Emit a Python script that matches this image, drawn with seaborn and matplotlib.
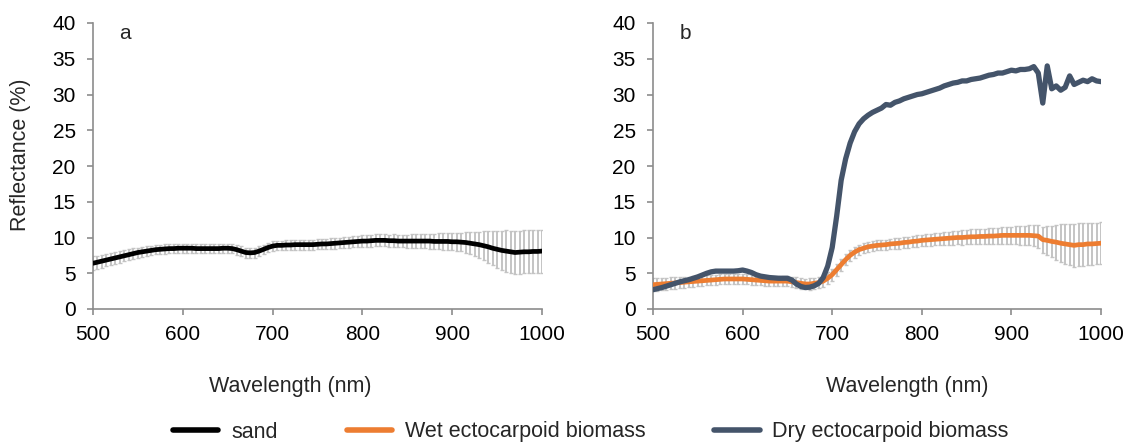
import numpy as np
import pandas as pd
import seaborn as sns
import matplotlib.pyplot as plt
from matplotlib.lines import Line2D

# wavelength grid (nm), 5 nm steps
wavelength = np.arange(500, 1001, 5)

# panel a: sand
sand = [6.4, 6.55, 6.7, 6.85, 7.0, 7.15, 7.3, 7.45, 7.6, 7.75, 7.9, 8.0, 8.1, 8.2, 8.3, 8.35, 8.4,
        8.45, 8.45, 8.5, 8.5, 8.5, 8.5, 8.45, 8.45, 8.45, 8.45, 8.45, 8.45, 8.5, 8.5, 8.45, 8.3, 8.1,
        7.9, 7.85, 7.9, 8.1, 8.35, 8.6, 8.8, 8.9, 8.9, 8.95, 8.95, 9.0, 9.0, 9.0, 9.0, 9.0, 9.05,
        9.1, 9.1, 9.15, 9.2, 9.25, 9.3, 9.35, 9.4, 9.45, 9.5, 9.5, 9.55, 9.6, 9.6, 9.6, 9.55, 9.55,
        9.5, 9.5, 9.5, 9.5, 9.5, 9.5, 9.5, 9.5, 9.45, 9.45, 9.45, 9.45, 9.4, 9.4, 9.35, 9.3, 9.2,
        9.1, 9.0, 8.85, 8.7, 8.5, 8.35, 8.2, 8.1, 8.0, 7.9, 7.95, 8.0, 8.0, 8.05, 8.05, 8.1]
sand_err = [0.95, 0.93, 0.9, 0.88, 0.85, 0.83, 0.8, 0.78, 0.75, 0.73, 0.7, 0.7, 0.68, 0.67, 0.66,
            0.65, 0.65,
            0.65, 0.65, 0.65, 0.65, 0.65, 0.65, 0.65, 0.65, 0.65, 0.65, 0.65, 0.65, 0.65, 0.65,
            0.66, 0.68, 0.7, 0.7, 0.7, 0.7, 0.68, 0.66, 0.65, 0.65,
            0.66, 0.66, 0.67, 0.67, 0.68, 0.68, 0.69, 0.69, 0.7, 0.7,
            0.71, 0.72, 0.73, 0.74, 0.75, 0.76, 0.77, 0.78, 0.79, 0.8,
            0.81, 0.82, 0.83, 0.84, 0.85, 0.86, 0.87, 0.88, 0.89, 0.9,
            0.93, 0.96, 0.99, 1.02, 1.05, 1.08, 1.11, 1.14, 1.17, 1.2,
            1.25, 1.3, 1.4, 1.5, 1.65, 1.8, 2.0, 2.2, 2.4, 2.6,
            2.75, 2.9, 2.95, 3.0, 3.0, 3.0, 3.0, 3.0, 3.0, 3.0]

# panel b: wet and dry ectocarpoid biomass
wet = [3.4, 3.45, 3.5, 3.55, 3.6, 3.65, 3.7, 3.75, 3.8, 3.85, 3.9, 3.95, 4.0, 4.05, 4.1, 4.15, 4.2,
       4.2, 4.2, 4.2, 4.2, 4.15, 4.1, 4.05, 4.0, 3.95, 3.9, 3.9, 3.9, 3.9, 3.9, 3.8, 3.7, 3.6, 3.5,
       3.5, 3.6, 3.7, 3.9, 4.3, 4.8, 5.5, 6.2, 6.9, 7.5, 7.95, 8.3, 8.5, 8.7, 8.8, 8.9, 8.95, 9.0,
       9.1, 9.15, 9.2, 9.3, 9.35, 9.45, 9.5, 9.6, 9.65, 9.7, 9.75, 9.8, 9.85, 9.9, 9.95, 10.0, 10.0,
       10.05, 10.1, 10.1, 10.15, 10.15, 10.2, 10.2, 10.25, 10.3, 10.3, 10.3, 10.3, 10.3, 10.3, 10.3,
       10.25, 10.2, 9.7, 9.6, 9.45, 9.35, 9.2, 9.1, 9.0, 8.9, 9.0, 9.0, 9.1, 9.1, 9.15, 9.2]
wet_err = [0.9, 0.88, 0.86, 0.84, 0.82, 0.8, 0.78, 0.76, 0.74, 0.72, 0.7,
           0.7, 0.7, 0.7, 0.7, 0.7, 0.7, 0.7, 0.7, 0.7, 0.7,
           0.7, 0.7, 0.7, 0.7, 0.7, 0.7, 0.7, 0.7, 0.7, 0.7,
           0.7, 0.72, 0.74, 0.76, 0.78, 0.8, 0.82, 0.85, 0.85, 0.85,
           0.85, 0.82, 0.8, 0.78, 0.75, 0.72, 0.7, 0.7, 0.7, 0.7,
           0.71, 0.72, 0.73, 0.74, 0.75, 0.76, 0.77, 0.78, 0.79, 0.8,
           0.82, 0.84, 0.86, 0.88, 0.9, 0.92, 0.94, 0.96, 0.98, 1.0,
           1.02, 1.04, 1.06, 1.08, 1.1, 1.12, 1.14, 1.16, 1.18, 1.2,
           1.25, 1.3, 1.35, 1.4, 1.5, 1.6, 1.8, 2.0, 2.2, 2.45,
           2.65, 2.8, 2.9, 3.0, 3.0, 3.0, 2.95, 2.95, 2.9, 2.9]
dry = [2.7, 2.85, 3.0, 3.2, 3.4, 3.6, 3.8, 3.95, 4.1, 4.3, 4.5, 4.75, 5.0, 5.2, 5.3, 5.3, 5.3, 5.3,
       5.3, 5.35, 5.45, 5.3, 5.1, 4.8, 4.6, 4.5, 4.4, 4.35, 4.3, 4.3, 4.3, 4.05, 3.5, 3.15, 3.0,
       3.05, 3.25, 3.6, 4.4, 6.0, 8.6, 13.0, 18.0, 21.0, 23.2, 24.8, 25.9, 26.6, 27.1, 27.5, 27.8,
       28.1, 28.6, 28.5, 28.9, 29.1, 29.4, 29.6, 29.8, 30.0, 30.1, 30.3, 30.5, 30.7, 30.9, 31.2,
       31.4, 31.6, 31.7, 31.9, 31.9, 32.1, 32.2, 32.3, 32.5, 32.7, 32.8, 33.0, 33.0, 33.2, 33.4,
       33.3, 33.5, 33.5, 33.6, 33.9, 33.0, 28.8, 34.0, 30.8, 31.2, 30.6, 31.0, 32.6, 31.4, 31.7,
       32.0, 31.8, 32.2, 31.9, 31.8]

series_names = ["sand", "Wet ectocarpoid biomass", "Dry ectocarpoid biomass"]
colors = ["#000000", "#ED7D31", "#44546A"]

sns.set_style("white")
plt.rcParams["font.family"] = ["Liberation Sans", "DejaVu Sans"]
axis_grey = "#8C8C8C"
err_grey = "#C4C4C4"

fig = plt.figure(figsize=(11.29, 4.43), dpi=100)
ax_a = fig.add_axes([93 / 1129, 1 - 309 / 443, 449 / 1129, 286 / 443])
ax_b = fig.add_axes([653 / 1129, 1 - 309 / 443, 448 / 1129, 286 / 443])

# error bars first so lines sit on top
ax_a.errorbar(wavelength, sand, yerr=sand_err, fmt="none", ecolor=err_grey,
              elinewidth=1.4, capsize=1.5, capthick=1.0, zorder=1)
sns.lineplot(x=wavelength, y=sand, ax=ax_a, color=colors[0], lw=3.4, zorder=3)

ax_b.errorbar(wavelength, wet, yerr=wet_err, fmt="none", ecolor=err_grey,
              elinewidth=1.4, capsize=1.5, capthick=1.0, zorder=1)
sns.lineplot(x=wavelength, y=wet, ax=ax_b, color=colors[1], lw=3.4, zorder=3)
sns.lineplot(x=wavelength, y=dry, ax=ax_b, color=colors[2], lw=3.8, zorder=4)

for ax, letter, lab_x in [(ax_a, "a", 0.44), (ax_b, "b", 0.567)]:
    ax.set(xlim=(500, 1000), ylim=(0, 40))
    ax.set_xticks(range(500, 1001, 100))
    ax.set_yticks(range(0, 41, 5))
    sns.despine(ax=ax)
    for side in ["left", "bottom"]:
        ax.spines[side].set_color(axis_grey)
        ax.spines[side].set_linewidth(1.2)
    ax.tick_params(axis="both", direction="out", length=4.5, width=1.2, color=axis_grey,
                   labelsize=15, labelcolor="#000000", left=True, bottom=True)
    ax.tick_params(axis="y", pad=8)
    ax.tick_params(axis="x", pad=7)
    ax.set_xlabel("Wavelength (nm)", fontsize=15.5)
    ax.xaxis.set_label_coords(lab_x, -0.235)
    ax.text(0.072, 0.965, letter, transform=ax.transAxes, ha="center", va="center", fontsize=15)

ax_a.set_ylabel("Reflectance (%)", fontsize=15.5)
ax_a.yaxis.set_label_coords(-0.138, 0.54)

handles = [Line2D([], [], color=c, lw=4) for c in colors]
fig.legend(handles, series_names, loc="center", ncol=3, frameon=False, fontsize=15.5,
           bbox_to_anchor=(591 / 1129, 1 - 432 / 443), handlelength=2.1,
           handletextpad=0.6, columnspacing=3.2)

fig.savefig("out.png", dpi=100)
